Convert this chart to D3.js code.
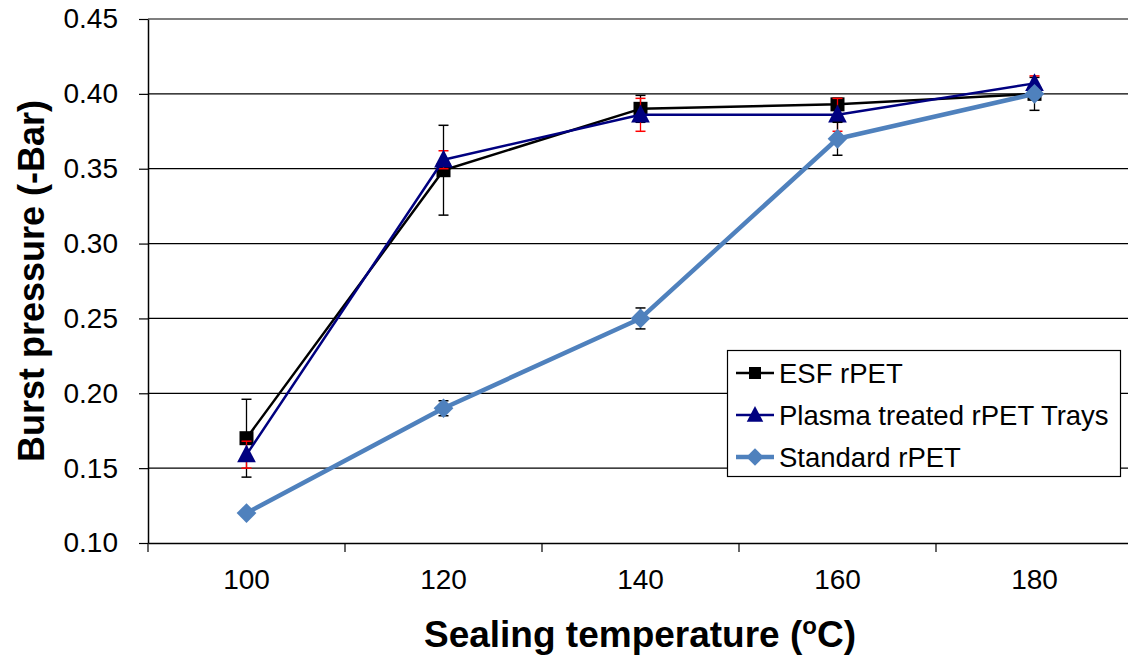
<!doctype html>
<html>
<head>
<meta charset="UTF-8">
<title>Burst pressure</title>
<script src="https://d3js.org/d3.v7.min.js"></script>
<style>
  body { margin: 0; background: #fff; }
  text { font-family: "Liberation Sans", Arial, sans-serif; }
</style>
</head>
<body>
<svg id="chart" width="1128" height="659"></svg>
<script>
// data
var temps = ["100", "120", "140", "160", "180"];
var esf = [0.170, 0.349, 0.390, 0.393, 0.400];
var esfErr = [0.026, 0.030, 0.009, 0.004, 0.011];
var plasma = [0.159, 0.356, 0.386, 0.386, 0.407];
var plasmaErr = [0.009, 0.006, 0.011, 0.011, 0.005];
var standard = [0.120, 0.190, 0.250, 0.370, 0.400];
var standardErr = [0.002, 0.005, 0.007, 0.011, 0.003];
var yTicks = [0.10, 0.15, 0.20, 0.25, 0.30, 0.35, 0.40, 0.45];

var series = [
  {name: "ESF rPET", values: esf, err: esfErr, color: "#000000", errColor: "#000000", width: 2.5, marker: "square"},
  {name: "Plasma treated rPET Trays", values: plasma, err: plasmaErr, color: "#000080", errColor: "#ff0000", width: 2.5, marker: "triangle"},
  {name: "Standard rPET", values: standard, err: standardErr, color: "#4f81bd", errColor: "#000000", width: 4.5, marker: "diamond"}
];

var pLeft = 148, pRight = 1133, pTop = 19, pBottom = 543;
var svg = d3.select("#chart");

var x = d3.scaleBand().domain(temps).range([pLeft, pRight]).padding(0);
var y = d3.scaleLinear().domain([0.10, 0.45]).range([pBottom, pTop]);
var cx = function(i){ return x(temps[i]) + x.bandwidth() / 2; };

// gridlines
svg.append("g").selectAll("line").data(yTicks.slice(1)).enter().append("line")
  .attr("x1", pLeft).attr("x2", 1128)
  .attr("y1", function(d){ return y(d); }).attr("y2", function(d){ return y(d); })
  .attr("stroke", "#000").attr("stroke-width", 1.2);

// y axis
var yAxis = d3.axisLeft(y).tickValues(yTicks).tickFormat(d3.format(".2f")).tickSizeInner(9).tickSizeOuter(0).tickPadding(21);
var gy = svg.append("g").attr("transform", "translate(" + pLeft + ",0)").call(yAxis);
gy.selectAll("text").attr("font-size", 28).attr("fill", "#000");
gy.select(".domain").attr("stroke-width", 1.5);
gy.selectAll(".tick line").attr("stroke-width", 1.2);

// x axis: ticks at category boundaries
var xAxis = d3.axisBottom(x).tickSize(0).tickPadding(26);
var gx = svg.append("g").attr("transform", "translate(0," + pBottom + ")").call(xAxis);
gx.selectAll("text").attr("font-size", 28).attr("fill", "#000");
gx.select(".domain").attr("stroke-width", 1.5);
gx.selectAll("line.bnd").data(temps).enter().append("line").attr("class", "bnd")
  .attr("x1", function(d){ return x(d); }).attr("x2", function(d){ return x(d); })
  .attr("y1", 0).attr("y2", 9).attr("stroke", "#000").attr("stroke-width", 1.2);

function marker(g, type, color, px, py, s) {
  if (type === "square") {
    g.append("rect").attr("x", px - s / 2).attr("y", py - s / 2).attr("width", s).attr("height", s).attr("fill", color);
  } else if (type === "triangle") {
    g.append("path").attr("d", "M" + px + "," + (py - s * 0.6) + "L" + (px + s * 0.55) + "," + (py + s * 0.45) + "L" + (px - s * 0.55) + "," + (py + s * 0.45) + "Z").attr("fill", color);
  } else {
    g.append("path").attr("d", "M" + px + "," + (py - s * 0.58) + "L" + (px + s * 0.58) + "," + py + "L" + px + "," + (py + s * 0.58) + "L" + (px - s * 0.58) + "," + py + "Z").attr("fill", color);
  }
}

var line = d3.line().x(function(d, i){ return cx(i); }).y(function(d){ return y(d); });

series.forEach(function(s) {
  var g = svg.append("g");
  // error bars
  s.values.forEach(function(v, i) {
    var px = cx(i), e = s.err[i];
    g.append("line").attr("x1", px).attr("x2", px).attr("y1", y(v + e)).attr("y2", y(v - e))
      .attr("stroke", s.errColor).attr("stroke-width", 1.3);
    [v + e, v - e].forEach(function(w) {
      g.append("line").attr("x1", px - 5).attr("x2", px + 5).attr("y1", y(w)).attr("y2", y(w))
        .attr("stroke", s.errColor).attr("stroke-width", 1.5);
    });
  });
  g.append("path").datum(s.values).attr("d", line).attr("fill", "none")
    .attr("stroke", s.color).attr("stroke-width", s.width).attr("stroke-linejoin", "round");
  s.values.forEach(function(v, i) {
    marker(g, s.marker, s.color, cx(i), y(v), s.marker === "square" ? 14 : 17);
  });
});

// legend
var lg = svg.append("g");
lg.append("rect").attr("x", 727.5).attr("y", 350.5).attr("width", 393).attr("height", 126)
  .attr("fill", "#fff").attr("stroke", "#000").attr("stroke-width", 1.2);
series.forEach(function(s, i) {
  var ly = 373 + i * 42;
  lg.append("line").attr("x1", 736).attr("x2", 774).attr("y1", ly).attr("y2", ly)
    .attr("stroke", s.color).attr("stroke-width", s.width);
  marker(lg, s.marker, s.color, 755, ly, s.marker === "square" ? 12 : 15);
  lg.append("text").attr("x", 779).attr("y", ly).attr("dy", "0.36em")
    .attr("font-size", 27.5).attr("fill", "#000").text(s.name);
});

// axis titles
var xt = svg.append("text").attr("x", 640).attr("y", 647).attr("text-anchor", "middle")
  .attr("font-size", 37).attr("font-weight", "bold").attr("fill", "#000");
xt.append("tspan").text("Sealing temperature (");
xt.append("tspan").attr("font-size", 24).attr("dy", -13).text("o");
xt.append("tspan").attr("dy", 13).text("C)");

svg.append("text").attr("transform", "translate(44,281) rotate(-90)").attr("text-anchor", "middle")
  .attr("font-size", 36).attr("font-weight", "bold").attr("fill", "#000").text("Burst pressure (-Bar)");
</script>
</body>
</html>
